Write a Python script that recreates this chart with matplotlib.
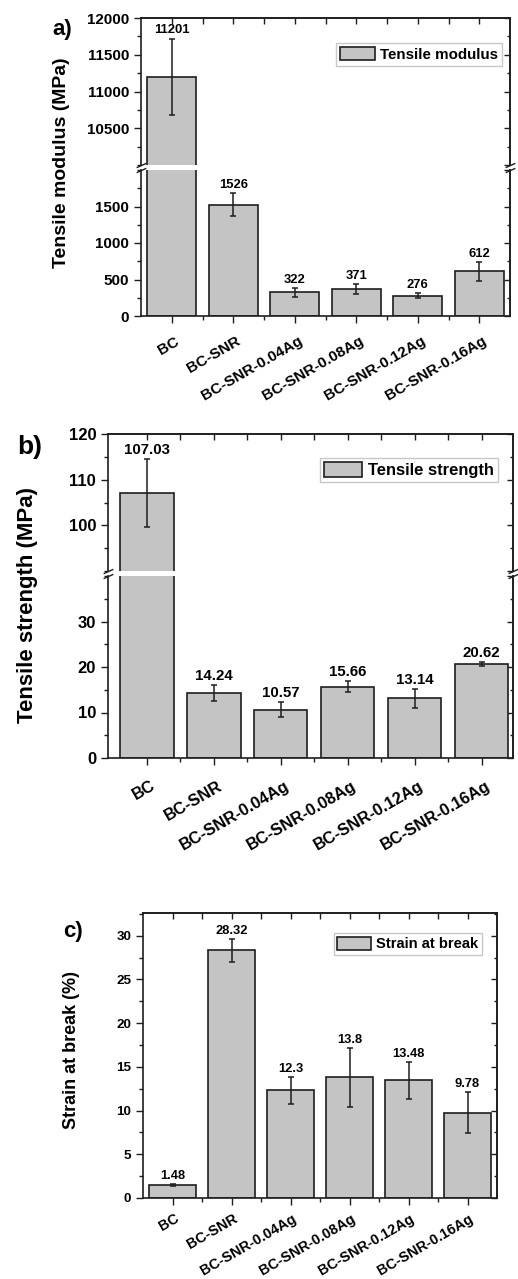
import numpy             as np
import matplotlib
matplotlib.use('Agg')
import matplotlib.pyplot as plt
from matplotlib.ticker import MultipleLocator, FixedLocator, NullFormatter
import matplotlib.transforms as mtrans


# Data
samples = ['BC', 'BC-SNR', 'BC-SNR-0.04Ag', 'BC-SNR-0.08Ag',
           'BC-SNR-0.12Ag', 'BC-SNR-0.16Ag']

modulus      = [11201, 1526, 322, 371, 276, 612]
modulus_err  = [520, 160, 64, 68, 36, 128]

strength     = [107.03, 14.24, 10.57, 15.66, 13.14, 20.62]
strength_err = [7.4, 1.7, 1.65, 1.2, 2.05, 0.5]

strain       = [1.48, 28.32, 12.3, 13.8, 13.48, 9.78]
strain_err   = [0.12, 1.35, 1.55, 3.4, 2.1, 2.3]


# Plotting parameters
W, H, DPI  = 518, 1279, 100
bar_face   = '#C4C4C4'
ink        = '#1E1E1E'
x          = np.arange(len(samples))

plt.rcParams['font.family'] = ['Liberation Sans', 'DejaVu Sans']
plt.rcParams['font.weight'] = 'bold'
plt.rcParams['axes.linewidth'] = 1.2
plt.rcParams['axes.edgecolor'] = ink


def px_box(left, top, right, bottom):
    """Axes rectangle from pixel edges of the reference."""
    return [left / W, 1 - bottom / H, (right - left) / W, (bottom - top) / H]


def style_axes(ax, major, minor, fs, show_top, show_bottom):
    """Origin-like ticks: left/bottom out, right/top in."""
    ax.yaxis.set_major_locator(MultipleLocator(major))
    ax.yaxis.set_minor_locator(MultipleLocator(minor))
    ax.xaxis.set_major_locator(FixedLocator(x))
    ax.xaxis.set_minor_locator(FixedLocator(x[:-1] + 0.5))
    ax.tick_params(which='both', direction='out', top=False, right=False,
                   color=ink, width=1.0, labelsize=fs)
    ax.tick_params(which='major', length=5)
    ax.tick_params(which='minor', length=3)
    sec = ax.secondary_yaxis('right')
    sec.yaxis.set_major_locator(MultipleLocator(major))
    sec.yaxis.set_minor_locator(MultipleLocator(minor))
    sec.yaxis.set_major_formatter(NullFormatter())
    sec.tick_params(which='both', direction='in', color=ink, width=1.0)
    sec.tick_params(which='major', length=4)
    sec.tick_params(which='minor', length=2.5)
    sec.spines['right'].set_linewidth(1.2)
    if show_top:
        top = ax.secondary_xaxis('top')
        top.xaxis.set_major_locator(FixedLocator(x))
        top.xaxis.set_minor_locator(FixedLocator(x[:-1] + 0.5))
        top.xaxis.set_major_formatter(NullFormatter())
        top.tick_params(which='both', direction='in', color=ink, width=1.0,
                        length=4)
        top.spines['top'].set_linewidth(1.2)
    else:
        ax.spines['top'].set_visible(False)
    if not show_bottom:
        ax.spines['bottom'].set_visible(False)
        ax.tick_params(axis='x', which='both', bottom=False,
                       labelbottom=False)


def draw_bars(ax, vals, errs, fs, label=None):
    bars = ax.bar(x, vals, 0.8, color=bar_face, edgecolor=ink,
                  linewidth=1.2, zorder=2, label=label)
    ax.errorbar(x, vals, yerr=errs, fmt='none', ecolor=ink, elinewidth=1.1,
                capsize=2.5, capthick=1.1, zorder=3)
    for xi, v, e in zip(x, vals, errs):
        ax.annotate('{:g}'.format(v), (xi, v + e), xytext=(0, 1.5),
                    textcoords='offset points', ha='center', va='bottom',
                    fontsize=fs, fontweight='bold', annotation_clip=True)
    return bars


def x_labels(ax, fs, pad, dx_px):
    ax.set_xticks(x)
    ax.set_xticklabels(samples, rotation=30, ha='right', va='top',
                       rotation_mode='anchor', fontsize=fs)
    ax.tick_params(axis='x', which='major', pad=pad, length=5)
    shift = mtrans.ScaledTranslation(dx_px / DPI, 0, plt.gcf().dpi_scale_trans)
    for lab in ax.get_xticklabels():
        lab.set_transform(lab.get_transform() + shift)


def break_marks(upper, lower):
    kw = dict(marker=[(-1, -0.45), (1, 0.45)], markersize=7,
              linestyle='none', color=ink, mec=ink, mew=1.0, clip_on=False)
    upper.plot([0, 1], [0, 0], transform=upper.transAxes, **kw)
    lower.plot([0, 1], [1, 1], transform=lower.transAxes, **kw)


def add_legend(ax, anchor, fs):
    leg = ax.legend(loc='upper right', bbox_to_anchor=anchor,
                    borderaxespad=0, fancybox=False, framealpha=1,
                    edgecolor='#C8C8C8', handlelength=2.3, handleheight=1.0,
                    handletextpad=0.35, borderpad=0.25,
                    prop={'size': fs, 'weight': 'bold'})
    leg.get_frame().set_linewidth(1.0)


fig = plt.figure(figsize=(W / DPI, H / DPI), dpi=DPI)

# a) Tensile modulus (broken axis)
a_up = fig.add_axes(px_box(141, 18, 510, 165))
a_lo = fig.add_axes(px_box(141, 170, 510, 316))
draw_bars(a_up, modulus, modulus_err, 9.4, label='Tensile modulus')
draw_bars(a_lo, modulus, modulus_err, 9.4)
for ax in (a_up, a_lo):
    ax.set_xlim(-0.5, 5.5)
a_up.set_ylim(10000, 12000)
a_lo.set_ylim(0, 2000)
style_axes(a_up, 500, 250, 10.9, True, False)
style_axes(a_lo, 500, 250, 10.9, False, True)
a_up.set_yticks([10500, 11000, 11500, 12000])
a_lo.set_yticks([0, 500, 1000, 1500])
x_labels(a_lo, 11, 8, 3)
break_marks(a_up, a_lo)
add_legend(a_up, (0.978, 0.83), 10.9)
fig.text(61 / W, 1 - 163 / H, 'Tensile modulus (MPa)', rotation=90,
         ha='center', va='center', fontsize=14, fontweight='bold')
fig.text(52 / W, 1 - 29 / H, 'a)', ha='left', va='center', fontsize=16,
         fontweight='bold')

# b) Tensile strength (broken axis)
b_up = fig.add_axes(px_box(108, 434, 513, 571))
b_lo = fig.add_axes(px_box(108, 576, 513, 758))
draw_bars(b_up, strength, strength_err, 10.8, label='Tensile strength')
draw_bars(b_lo, strength, strength_err, 10.8)
for ax in (b_up, b_lo):
    ax.set_xlim(-0.58, 5.47)
b_up.set_ylim(90, 120)
b_lo.set_ylim(0, 40)
style_axes(b_up, 10, 5, 12, True, False)
style_axes(b_lo, 10, 5, 12, False, True)
b_up.set_yticks([100, 110, 120])
b_lo.set_yticks([0, 10, 20, 30])
x_labels(b_lo, 11.9, 9.5, 4)
break_marks(b_up, b_lo)
add_legend(b_up, (0.963, 0.825), 11.9)
fig.text(28 / W, 1 - 605 / H, 'Tensile strength (MPa)', rotation=90,
         ha='center', va='center', fontsize=16, fontweight='bold')
fig.text(17 / W, 1 - 447 / H, 'b)', ha='left', va='center', fontsize=19,
         fontweight='bold')

# c) Strain at break
c_ax = fig.add_axes(px_box(143, 913, 497, 1198))
draw_bars(c_ax, strain, strain_err, 9.3, label='Strain at break')
c_ax.set_xlim(-0.5, 5.5)
c_ax.set_ylim(0, 32.6)
style_axes(c_ax, 5, 2.5, 9.7, True, True)
x_labels(c_ax, 10.4, 4.7, 1.5)
add_legend(c_ax, (0.958, 0.93), 10.6)
fig.text(71 / W, 1 - 1050 / H, 'Strain at break (%)', rotation=90,
         ha='center', va='center', fontsize=13, fontweight='bold')
fig.text(63 / W, 1 - 931 / H, 'c)', ha='left', va='center', fontsize=16,
         fontweight='bold')

fig.savefig('out.png', dpi=DPI)
